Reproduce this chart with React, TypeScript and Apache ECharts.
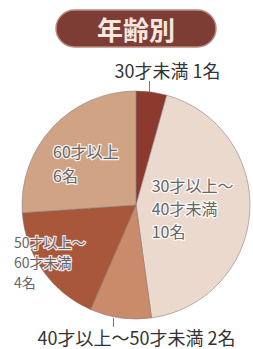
import React, { useEffect, useRef } from "react";
import * as echarts from "echarts";

const titleText = "年齢別";
const categories = ["30才未満", "30才以上～\n40才未満", "40才以上～50才未満", "50才以上～\n60才未満", "60才以上"];
const counts = [1, 10, 2, 4, 6];
const unit = "名";
const outsideIdx = [0, 2];

const colors = ["#8c3a2e", "#ecd9ce", "#c98b69", "#a9573a", "#d0a385"];
// [dx, dy, lineHeight, fontSize]
const insideOffsets: Record<number, [number, number, number, number]> = {
  1: [-2, -1, 23, 16],
  3: [-36, 22, 20, 14],
  4: [-5, -1, 24, 16],
};

export default function App() {
  const ref = useRef<HTMLDivElement>(null);
  useEffect(() => {
    if (!ref.current) return;
    const chart = echarts.init(ref.current, undefined, { renderer: "svg" });
    const font = '"Noto Sans CJK JP", "Noto Sans", sans-serif';
    const data = categories.map((name, i) => {
      const outside = outsideIdx.includes(i);
      const cfg = insideOffsets[i];
      return {
        name,
        value: counts[i],
        itemStyle: { color: colors[i] },
        label: outside
          ? {
              position: "outside",
              formatter: `{b} {c}${unit}`,
              fontSize: 18,
              lineHeight: 18,
              color: "#333",
              fontFamily: font,
            }
          : {
              position: "inside",
              formatter: `{b}\n{c}${unit}`,
              fontSize: cfg[3],
              lineHeight: cfg[2],
              color: "#666",
              textBorderColor: "rgba(255,255,255,0.85)",
              textBorderWidth: 2.5,
              fontFamily: font,
            },
        labelLine: outside
          ? { show: true, length: 12, length2: 0, lineStyle: { color: "#777", width: 1 } }
          : { show: false },
      };
    });
    chart.setOption({
      animation: false,
      backgroundColor: "#ffffff",
      title: {
        text: titleText,
        left: 56,
        top: 10,
        padding: [3, 41, 3, 41],
        backgroundColor: "#7d3d34",
        borderColor: "#b98a80",
        borderWidth: 1.5,
        borderRadius: 19,
        textStyle: {
          color: "#f4e6e0",
          fontSize: 26,
          fontWeight: "bold",
          fontFamily: font,
          lineHeight: 31,
        },
      },
      series: [
        {
          type: "pie",
          center: [136, 205],
          radius: 114,
          startAngle: 90,
          clockwise: true,
          avoidLabelOverlap: false,
          itemStyle: { borderColor: "rgba(130,120,120,0.55)", borderWidth: 1 },
          emphasis: { disabled: true },
          data,
          labelLayout: (p: any) => {
            const i = p.dataIndex;
            if (outsideIdx.includes(i)) {
              const pts = p.labelLinePoints;
              if (!pts) return {};
              const x1 = pts[0][0];
              const y1 = pts[0][1];
              const up = i === 0;
              const xl = up ? x1 - 2 : x1 - 7;
              const yEnd = up ? y1 - 11 : y1 + 9;
              return {
                x: up ? xl + 18 : xl + 23,
                y: up ? yEnd - 2 : yEnd + 1,
                align: "center",
                verticalAlign: up ? "bottom" : "top",
                labelLinePoints: [
                  [xl, y1],
                  [xl, yEnd],
                  [xl, yEnd],
                ],
              };
            }
            const off = insideOffsets[i];
            const r = p.labelRect;
            return {
              x: r.x + off[0],
              y: r.y + off[1],
              align: "left",
              verticalAlign: "top",
            };
          },
        },
      ],
    });
    return () => chart.dispose();
  }, []);
  return (
    <div
      ref={ref}
      style={{ position: "absolute", left: 0, top: 0, width: 253, height: 349 }}
    />
  );
}
